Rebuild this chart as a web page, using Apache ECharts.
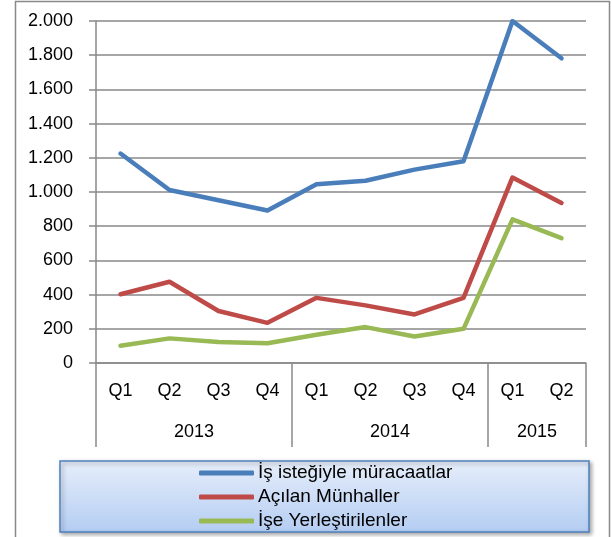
<!DOCTYPE html>
<html>
<head>
<meta charset="utf-8">
<script src="https://cdn.jsdelivr.net/npm/echarts@6/dist/echarts.min.js"></script>
<style>
  html, body { margin: 0; padding: 0; background: #fff; }
  #main { width: 612px; height: 537px; }
</style>
</head>
<body>
<div id="main"></div>
<script>
var quarters = ['Q1', 'Q2', 'Q3', 'Q4', 'Q1', 'Q2', 'Q3', 'Q4', 'Q1', 'Q2'];
var years = ['2013', '2014', '2015'];
var quartersPerYear = [4, 4, 2];

var applications = [1225, 1012, 952, 892, 1045, 1066, 1131, 1180, 2000, 1782];
var openings = [402, 475, 304, 235, 381, 337, 284, 381, 1085, 936];
var placements = [101, 144, 123, 115, 165, 210, 155, 200, 840, 730];

var seriesNames = ['İş isteğiyle müracaatlar', 'Açılan Münhaller', 'İşe Yerleştirilenler'];
var colors = ['#4a7ebb', '#be4b48', '#98b954'];

// year boundaries and centers on a 0..10 value axis under the quarters
var yearEdges = [0];
var yearCenters = [];
quartersPerYear.forEach(function (n, i) {
  var start = yearEdges[i];
  yearEdges.push(start + n);
  yearCenters.push(start + n / 2);
});

var gray = '#898989';
var font = 'Liberation Sans';

function dotted(v) {
  return String(v).replace(/\B(?=(\d{3})+(?!\d))/g, '.');
}

function lineSeries(name, data, color) {
  return {
    name: name,
    type: 'line',
    data: data,
    symbol: 'none',
    lineStyle: { width: 4.5, color: color, cap: 'round', join: 'round' },
    itemStyle: { color: color }
  };
}

option = {
  animation: false,
  color: colors,
  textStyle: { fontFamily: font },
  grid: { left: 96, right: 26, top: 21, bottom: 174 },
  graphic: [
    {
      type: 'rect',
      z: 0,
      shape: { x: 15.5, y: 1.5, width: 594, height: 560 },
      style: { fill: 'none', stroke: gray, lineWidth: 1.5 }
    },
    {
      type: 'rect',
      z: 1,
      shape: { x: 60, y: 461, width: 529, height: 71 },
      style: {
        fill: new echarts.graphic.LinearGradient(0, 0, 0, 1, [
          { offset: 0, color: '#e6eefa' },
          { offset: 1, color: '#b4cdf3' }
        ]),
        stroke: '#4f81bd',
        lineWidth: 1.5,
        shadowBlur: 4,
        shadowOffsetX: 2,
        shadowOffsetY: 2,
        shadowColor: 'rgba(0,0,0,0.35)'
      }
    }
  ],
  legend: {
    orient: 'vertical',
    left: 199,
    top: 461,
    padding: 0,
    itemGap: 0,
    itemWidth: 55,
    itemHeight: 5,
    icon: 'roundRect',
    data: seriesNames,
    textStyle: { fontFamily: font, fontSize: 19, color: '#000', lineHeight: 24, padding: [0, 0, 0, -1] }
  },
  xAxis: [
    {
      type: 'category',
      data: quarters,
      boundaryGap: true,
      axisLine: { lineStyle: { color: gray, width: 1.5 } },
      axisTick: { interval: 0, length: 40, lineStyle: { color: gray, width: 1.5 } },
      axisLabel: { interval: 0, margin: 19, fontSize: 18, color: '#000', fontFamily: font }
    },
    {
      type: 'value',
      position: 'bottom',
      min: 0,
      max: yearEdges[yearEdges.length - 1],
      axisLine: { show: false },
      splitLine: { show: false },
      axisTick: { show: true, length: 84, customValues: yearEdges, lineStyle: { color: gray, width: 1.5 } },
      axisLabel: {
        margin: 60,
        fontSize: 18,
        color: '#000',
        fontFamily: font,
        customValues: yearCenters,
        formatter: function (v) {
          return years[yearCenters.indexOf(v)];
        }
      }
    }
  ],
  yAxis: {
    type: 'value',
    min: 0,
    max: 2000,
    interval: 200,
    axisLine: { show: true, lineStyle: { color: gray, width: 1.5 } },
    axisTick: { show: true, length: 7, lineStyle: { color: gray, width: 1.5 } },
    splitLine: { lineStyle: { color: gray, width: 1.5 } },
    axisLabel: { margin: 23, fontSize: 18, color: '#000', fontFamily: font, formatter: dotted }
  },
  series: [
    lineSeries(seriesNames[0], applications, colors[0]),
    lineSeries(seriesNames[1], openings, colors[1]),
    lineSeries(seriesNames[2], placements, colors[2])
  ]
};

var myChart = echarts.init(document.getElementById('main'));
myChart.setOption(option);
</script>
</body>
</html>
